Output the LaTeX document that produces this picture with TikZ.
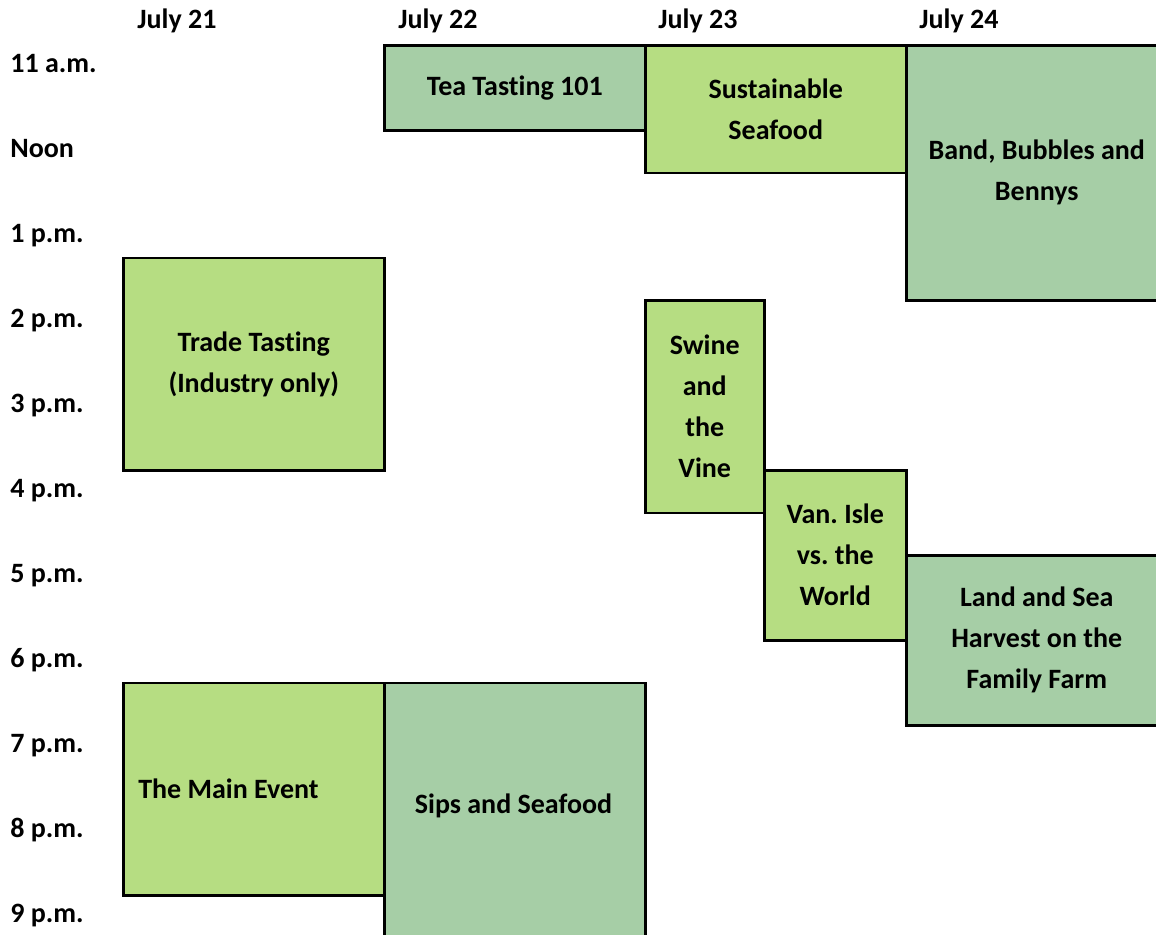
\documentclass[tikz,border=0pt]{standalone}
\usepackage{fontspec}
\setmainfont{Carlito}[Ligatures={NoCommon}]
\definecolor{schedlight}{HTML}{B6DD82}
\definecolor{scheddark}{HTML}{A6CEA6}

\tikzset{
  evtext/.style={align=center, inner sep=0pt, font=\bfseries\fontsize{14}{20.5}\selectfont},
  evbox/.style={evtext, draw, line width=1.25pt, anchor=north west},
  evlight/.style={evbox, fill=schedlight},
  evdark/.style={evbox, fill=scheddark},
  timelbl/.style={anchor=base west, inner sep=0pt, font=\bfseries\fontsize{14}{17}\selectfont},
}

\begin{document}
\begin{tikzpicture}[x=0.5pt,y=-0.5pt]
\useasboundingbox (0,0) rectangle (1156,934);
\clip (0,0) rectangle (1156,934);

% days and hours
\foreach \d/\x in {21/137,22/398,23/658,24/919}
  \node[timelbl] (day\d) at (\x,28) {July \d};
\foreach \t [count=\i from 0] in {11 a.m.,Noon,1 p.m.,2 p.m.,3 p.m.,4 p.m.,5 p.m.,6 p.m.,7 p.m.,8 p.m.,9 p.m.}
  \node[timelbl] (hour\i) at (10,72+85*\i) {\t};

% events
\node[evdark, minimum width=130.5pt, minimum height=42.5pt] (tea) at (383,44) {Tea Tasting 101};
\node[evlight, minimum width=130.5pt, minimum height=63.75pt] (seafood) at (644,44) {Sustainable\\Seafood};
\node[evdark, minimum width=130.5pt, minimum height=127.5pt] (band) at (905,44) {Band, Bubbles and\\Bennys};
\node[evlight, minimum width=130.5pt, minimum height=106.25pt] (trade) at (122,256.5) {Trade Tasting\\(Industry only)};
\node[evlight, minimum width=59.5pt, minimum height=106.25pt] (swine) at (644,299) {Swine\\and\\the\\Vine};
\node[evlight, minimum width=71pt, minimum height=85pt] (vanisle) at (763,469) {Van.\ Isle\\vs.\ the\\World};
\node[evdark, minimum width=130.5pt, minimum height=85pt] (landsea) at (905,554) {Land and Sea\\Harvest on the\\Family Farm};
\node[evlight, align=flush left, text width=115.5pt, inner xsep=7.5pt, minimum height=106.25pt] (mainev) at (122,681.5) {The Main Event};
\node[evdark, minimum width=130.5pt, minimum height=135pt] (sips) at (383,681.5) {};
\node[evtext] (sipstext) at (513.5,806) {Sips and Seafood};

\end{tikzpicture}
\end{document}
